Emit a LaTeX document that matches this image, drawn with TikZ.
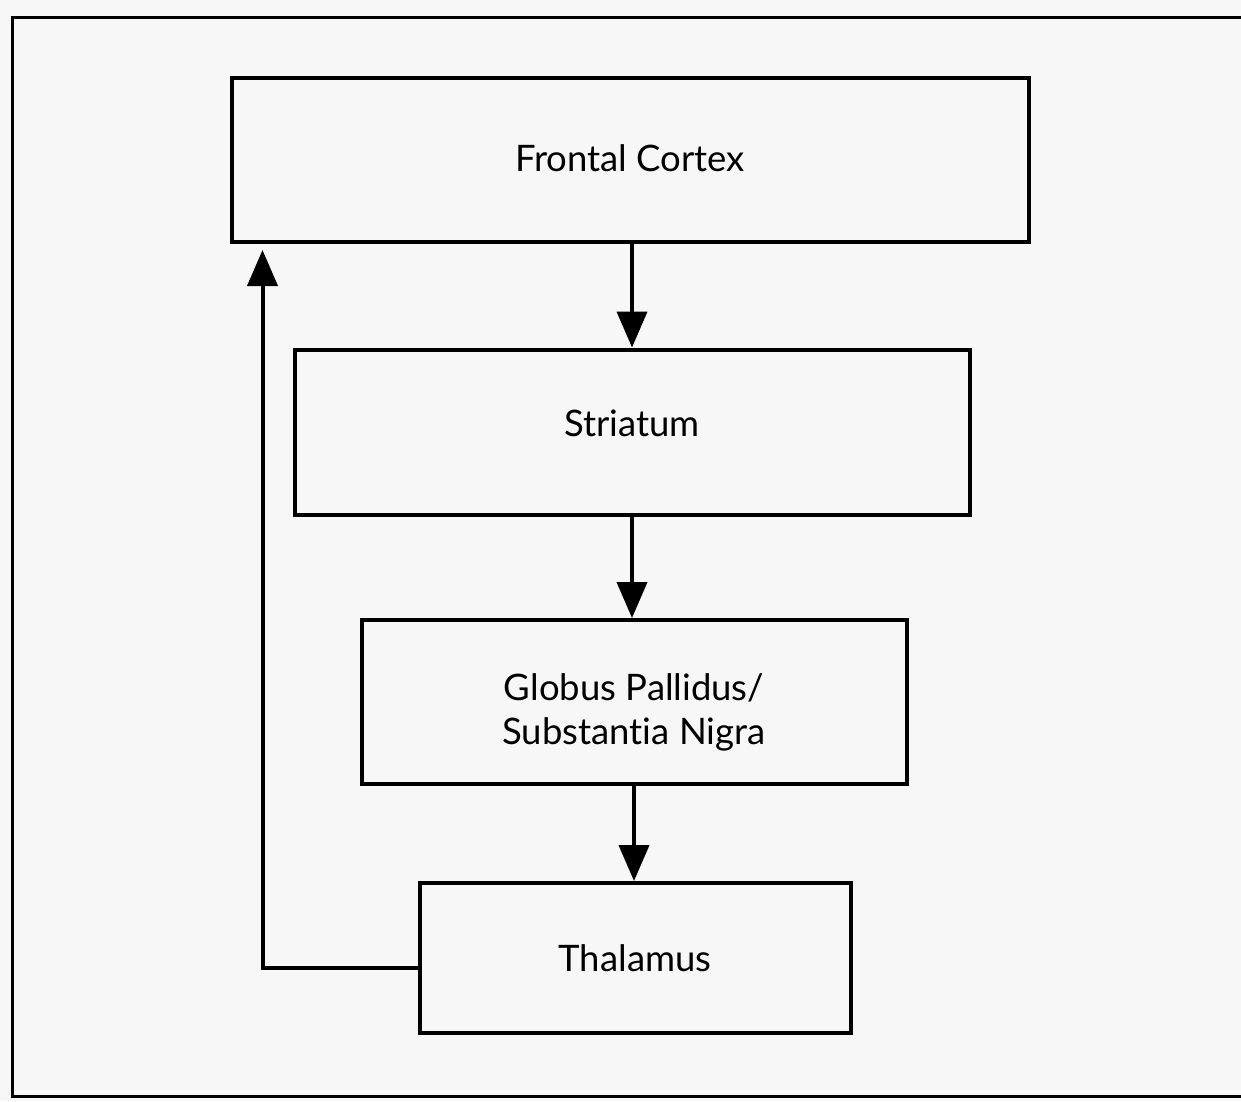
\documentclass[tikz,border=0pt]{standalone}
\usepackage{fontspec}
\setmainfont{Lato}[Ligatures=NoCommon]
\usetikzlibrary{arrows.meta}
\definecolor{bg}{HTML}{F7F7F7}
\begin{document}
\begin{tikzpicture}[x=1pt,y=-1pt,
  boxnode/.style={draw=black,line width=4pt,fill=bg,inner sep=0pt,font=\fontsize{36.5}{44}\selectfont,align=center},
  boxtext/.style={inner sep=0pt,font=\fontsize{36.5}{44}\selectfont,align=center},
  arr/.style={line width=4pt,-{Triangle[length=36pt,width=30pt]}}]
\useasboundingbox (0,0) rectangle (1241,1101);
\fill[bg] (0,0) rectangle (1241,1101);
\draw[line width=3pt] (1245,17) -- (12,17) -- (12,1096) -- (1245,1096);
\node[boxnode,minimum width=797pt,minimum height=164pt] (fc) at (630,160) {\raisebox{3pt}{Frontal Cortex}};
\node[boxnode,minimum width=675pt,minimum height=165pt] (st) at (632,432) {\raisebox{17pt}{Striatum}};
\node[boxnode,minimum width=545pt,minimum height=164pt] (gp) at (634,702) {};
\node[boxtext] (gplabel) at ([yshift=-10pt]gp.center) {Globus Pallidus/\\Substantia Nigra};
\node[boxnode,minimum width=431pt,minimum height=150pt] (th) at (635,958) {\raisebox{-2pt}{Thalamus}};
\draw[arr] ([xshift=2pt]fc.south) -- ([xshift=2pt]fc.south |- st.north);
\draw[arr] (st.south) -- (st.south |- gp.north);
\draw[arr] (gp.south) -- (gp.south |- th.north);
\draw[arr] ([yshift=-10pt]th.west) -| ([xshift=33pt,yshift=-6pt]fc.south west);
\end{tikzpicture}
\end{document}
